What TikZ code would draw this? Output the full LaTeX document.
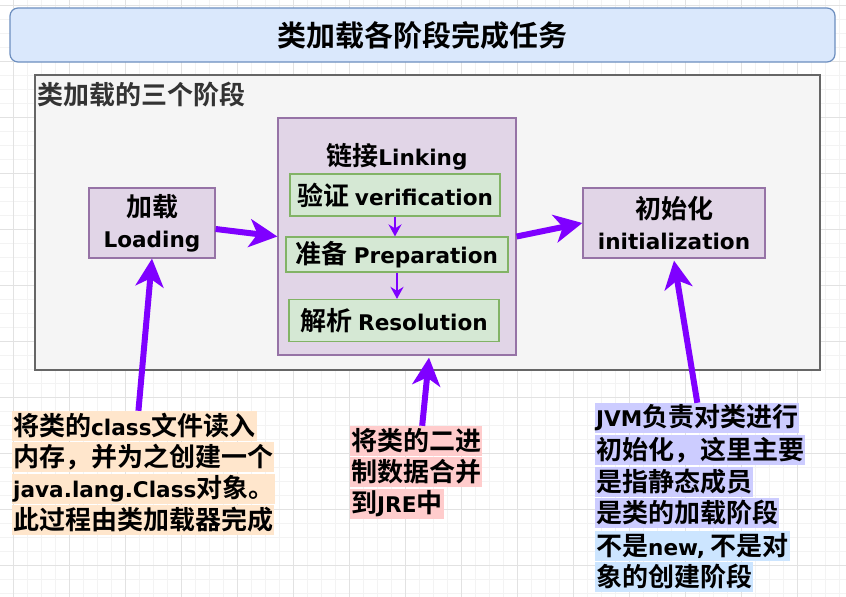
\documentclass[tikz,border=0pt]{standalone}
\usepackage{fontspec}
\setmainfont{Noto Sans CJK SC}[UprightFont=* Bold]
\newfontfamily\enfont{DejaVu Sans}[UprightFont=* Bold, Scale=0.83]
\newcommand{\en}[1]{{\enfont #1}}
\usepackage{tikz}
\usetikzlibrary{arrows.meta}
\definecolor{titleFill}{HTML}{DAE8FC}
\definecolor{titleLine}{HTML}{6C8EBF}
\definecolor{groupFill}{HTML}{F5F5F5}
\definecolor{groupLine}{HTML}{666666}
\definecolor{groupText}{HTML}{333333}
\definecolor{stageFill}{HTML}{E1D5E7}
\definecolor{stageLine}{HTML}{9673A6}
\definecolor{stepFill}{HTML}{D5E8D4}
\definecolor{stepLine}{HTML}{82B366}
\definecolor{arrPurple}{HTML}{7F00FF}
\definecolor{notePeach}{HTML}{FFE6CC}
\definecolor{notePink}{HTML}{FFCCCC}
\definecolor{noteLilac}{HTML}{CCCCFF}
\definecolor{noteBlue}{HTML}{CCE5FF}
\definecolor{gridMinor}{HTML}{F3F3F3}
\definecolor{gridMajor}{HTML}{E2E2E2}

\begin{document}
\begin{tikzpicture}[x=1pt, y=-1pt,
    titlebox/.style={rectangle, rounded corners=8pt, draw=titleLine, line width=1.2pt, fill=titleFill,
      minimum width=825pt, minimum height=54pt, font=\fontsize{29}{34}\selectfont},
    groupbox/.style={rectangle, draw=groupLine, line width=1.5pt, fill=groupFill,
      minimum width=785pt, minimum height=295pt},
    stagebox/.style={rectangle, draw=stageLine, line width=1.2pt, fill=stageFill, align=center,
      inner sep=0pt, font=\fontsize{26}{31}\selectfont},
    stepbox/.style={rectangle, draw=stepLine, line width=1.2pt, fill=stepFill, inner sep=0pt,
      font=\fontsize{26}{31}\selectfont},
    noteline/.style={anchor=west, inner xsep=1pt, inner ysep=0pt, minimum height=30pt,
      font=\fontsize{26}{30}\selectfont},
    bigarr/.style={-{Stealth[length=28pt, width=28pt, inset=8pt]}, line width=6pt, draw=arrPurple},
    smallarr/.style={-{Stealth[length=12pt, width=13pt, inset=4pt]}, line width=2pt, draw=arrPurple}
  ]
  % canvas + grid
  \useasboundingbox (0,0) rectangle (846,597);
  \fill[white] (0,0) rectangle (846,597);
  \foreach \gx in {13,27,...,846} \draw[gridMinor, line width=0.8pt] (\gx,0) -- (\gx,597);
  \foreach \gy in {5,19,...,597} \draw[gridMinor, line width=0.8pt] (0,\gy) -- (846,\gy);
  \foreach \gx in {13,69,...,846} \draw[gridMajor, line width=0.8pt] (\gx,0) -- (\gx,597);
  \foreach \gy in {5,61,...,597} \draw[gridMajor, line width=0.8pt] (0,\gy) -- (846,\gy);

  \node[titlebox] (title) at (422.5,35) {类加载各阶段完成任务};

  \node[groupbox] (stages) at (427.5,222.5) {};
  \node[anchor=west, inner xsep=2pt, text=groupText, font=\fontsize{26}{30}\selectfont] (stageslbl) at (35,95) {类加载的三个阶段};

  % the three stages
  \node[stagebox, minimum width=126pt, minimum height=70pt] (loading) at (152,223) {加载\\\en{Loading}};
  \node[stagebox, minimum width=238pt, minimum height=237pt] (linking) at (397,236.5) {};
  \node[font=\fontsize{26}{31}\selectfont, inner sep=0pt] (linkinglbl) at (397,157) {链接\en{Linking}};
  \node[stagebox, minimum width=182pt, minimum height=70pt] (init) at (674,223) {初始化\\\en{initialization}};

  \node[stepbox, minimum width=210pt, minimum height=42pt] (verify) at (395,195) {验证 \en{verification}};
  \node[stepbox, minimum width=222pt, minimum height=35pt] (prepare) at (397,254.5) {准备 \en{Preparation}};
  \node[stepbox, minimum width=210pt, minimum height=42pt] (resolve) at (394,320.5) {解析 \en{Resolution}};

  \draw[smallarr] (verify.south) -- (verify.south |- prepare.north);
  \draw[smallarr] (prepare.south) -- (prepare.south |- resolve.north);

  \draw[bigarr] ([yshift=-6pt]loading.east) -- (linking.west);
  \draw[bigarr] (linking.east) -- (init.west);

  % notes
  \node[noteline, fill=notePeach] (noteA1) at (12,426) {将类的\en{class}文件读入};
  \node[noteline, fill=notePeach] (noteA2) at (12,457) {内存，并为之创建一个};
  \node[noteline, fill=notePeach] (noteA3) at (12,489) {\en{java.lang.Class}对象。};
  \node[noteline, fill=notePeach] (noteA4) at (12,520) {此过程由类加载器完成};

  \node[noteline, fill=notePink] (noteB1) at (350,441) {将类的二进};
  \node[noteline, fill=notePink] (noteB2) at (350,472) {制数据合并};
  \node[noteline, fill=notePink] (noteB3) at (350,504) {到\en{JRE}中};

  \node[noteline, fill=noteLilac] (noteC1) at (595,418) {\en{JVM}负责对类进行};
  \node[noteline, fill=noteLilac] (noteC2) at (595,450) {初始化，这里主要};
  \node[noteline, fill=noteLilac] (noteC3) at (595,482) {是指静态成员};
  \node[noteline, fill=noteLilac] (noteC4) at (595,513) {是类的加载阶段};
  \node[noteline, fill=noteBlue] (noteC5) at (595,546) {不是\en{new,} 不是对};
  \node[noteline, fill=noteBlue] (noteC6) at (595,577) {象的创建阶段};

  \draw[bigarr] ([xshift=4pt]noteA1.north) -- (loading.south);
  \draw[bigarr] ([xshift=6pt]noteB1.north) -- ([xshift=32pt,yshift=-2pt]linking.south);
  \draw[bigarr] (noteC1.north) -- ([yshift=-2pt]init.south);
\end{tikzpicture}
\end{document}
